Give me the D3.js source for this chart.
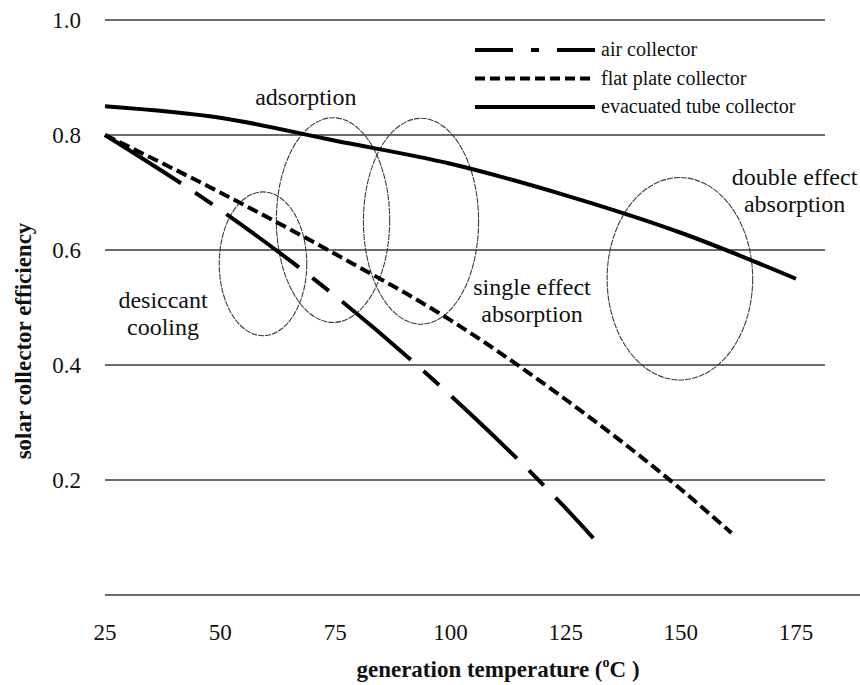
<!DOCTYPE html>
<html>

<head>
    <style>
        body { margin: 0; background: #fff; }
        text { font-family: "Liberation Serif", "Times New Roman", serif; fill: #111; }
        .grid line { stroke: #3a3a3a; stroke-width: 1.6; }
        .tick-label { font-size: 23px; }
        .axis-title { font-size: 23px; font-weight: bold; }
        .note { font-size: 24px; text-anchor: middle; }
        .legend-label { font-size: 20px; }
        .zone { fill: none; stroke: #3c3c3c; stroke-width: 1.1; stroke-dasharray: 6, 1; }
        .series { fill: none; stroke: #000; stroke-width: 4; }
    </style>
    <script src="https://d3js.org/d3.v7.min.js"></script>
</head>

<body>
    <svg width="860" height="685"></svg>
    <script>
        // values
        var xTicks = [25, 50, 75, 100, 125, 150, 175];
        var yTicks = [0.2, 0.4, 0.6, 0.8, 1.0];

        var airT = [25, 50, 75, 100, 125, 131];
        var airEff = [0.80, 0.67, 0.52, 0.347, 0.151, 0.099];

        var flatT = [25, 50, 75, 100, 125, 150, 161];
        var flatEff = [0.80, 0.70, 0.593, 0.478, 0.34, 0.184, 0.108];

        var tubeT = [25, 50, 75, 100, 125, 150, 175];
        var tubeEff = [0.85, 0.83, 0.79, 0.75, 0.695, 0.63, 0.55];

        var seriesNames = ["air collector", "flat plate collector", "evacuated tube collector"];

        // operating zones (centre temp, centre efficiency, half width, half height)
        var zoneNames = ["desiccant cooling", "adsorption", "single effect absorption", "double effect absorption"];
        var zoneT = [59.3, 74.5, 93.6, 149.8];
        var zoneEff = [0.576, 0.652, 0.650, 0.55];
        var zoneHalfT = [9.5, 12.3, 12.5, 15.8];
        var zoneHalfEff = [0.125, 0.178, 0.179, 0.176];

        var svg = d3.select("svg");

        var x = d3.scaleLinear().domain([25, 181.3]).range([105, 825]);
        var y = d3.scaleLinear().domain([0, 1]).range([595, 20]);

        // grid lines
        var grid = svg.append("g").attr("class", "grid");
        grid.selectAll("line.h")
            .data(yTicks)
            .enter().append("line")
            .attr("class", "h")
            .attr("x1", x(25))
            .attr("x2", x(181.3))
            .attr("y1", function (d) { return y(d); })
            .attr("y2", function (d) { return y(d); });

        // bottom axis line runs to the edge
        grid.append("line")
            .attr("x1", x(25)).attr("x2", 860)
            .attr("y1", y(0)).attr("y2", y(0));

        svg.selectAll(".ylab")
            .data(yTicks)
            .enter().append("text")
            .attr("class", "tick-label ylab")
            .attr("x", 81)
            .attr("y", function (d) { return y(d); })
            .attr("dy", "0.33em")
            .attr("text-anchor", "end")
            .text(function (d) { return d.toFixed(1); });

        svg.selectAll(".xlab")
            .data(xTicks)
            .enter().append("text")
            .attr("class", "tick-label xlab")
            .attr("x", function (d) { return x(d); })
            .attr("y", 640)
            .attr("text-anchor", "middle")
            .text(function (d) { return d; });

        // axis titles
        svg.append("text")
            .attr("class", "axis-title")
            .attr("transform", "translate(31,341) rotate(-90)")
            .attr("text-anchor", "middle")
            .text("solar collector efficiency");

        var xt = svg.append("text")
            .attr("class", "axis-title")
            .attr("x", 498)
            .attr("y", 677)
            .attr("text-anchor", "middle");
        xt.append("tspan").text("generation temperature (");
        xt.append("tspan").attr("font-size", "14px").attr("dy", "-10").text("o");
        xt.append("tspan").attr("dy", "10").text("C )");

        // zone ellipses
        svg.selectAll(".zone")
            .data(zoneNames)
            .enter().append("ellipse")
            .attr("class", "zone")
            .attr("cx", function (d, i) { return x(zoneT[i]); })
            .attr("cy", function (d, i) { return y(zoneEff[i]); })
            .attr("rx", function (d, i) { return x(25 + zoneHalfT[i]) - x(25); })
            .attr("ry", function (d, i) { return y(0) - y(zoneHalfEff[i]); });

        // curves
        var line = d3.line()
            .x(function (d) { return x(d[0]); })
            .y(function (d) { return y(d[1]); })
            .curve(d3.curveMonotoneX);

        var dashes = ["90,17,21,17", "11,5", null];
        var legendDashes = ["38,18,8,18", "10,5", null];
        var data = [d3.zip(airT, airEff), d3.zip(flatT, flatEff), d3.zip(tubeT, tubeEff)];

        svg.selectAll(".series")
            .data(data)
            .enter().append("path")
            .attr("class", "series")
            .attr("d", line)
            .attr("stroke-dasharray", function (d, i) { return dashes[i]; });

        // zone labels
        function note(lines, t, e) {
            var txt = svg.append("text")
                .attr("class", "note")
                .attr("x", x(t))
                .attr("y", y(e));
            lines.forEach(function (s, i) {
                txt.append("tspan")
                    .attr("x", x(t))
                    .attr("dy", i == 0 ? 0 : 27)
                    .text(s);
            });
        }
        note(["adsorption"], 68.6, 0.852);
        note(["desiccant", "cooling"], 37.6, 0.499);
        note(["single effect", "absorption"], 117.7, 0.522);
        note(["double effect", "absorption"], 174.7, 0.713);

        // legend
        var legend = svg.append("g").attr("transform", "translate(475,50)");
        seriesNames.forEach(function (name, i) {
            legend.append("line")
                .attr("class", "series")
                .attr("x1", 0).attr("x2", 120)
                .attr("y1", i * 28.5).attr("y2", i * 28.5)
                .attr("stroke-dasharray", legendDashes[i]);
            legend.append("text")
                .attr("class", "legend-label")
                .attr("x", 126)
                .attr("y", i * 28.5 + 6)
                .text(name);
        });
    </script>
</body>

</html>
